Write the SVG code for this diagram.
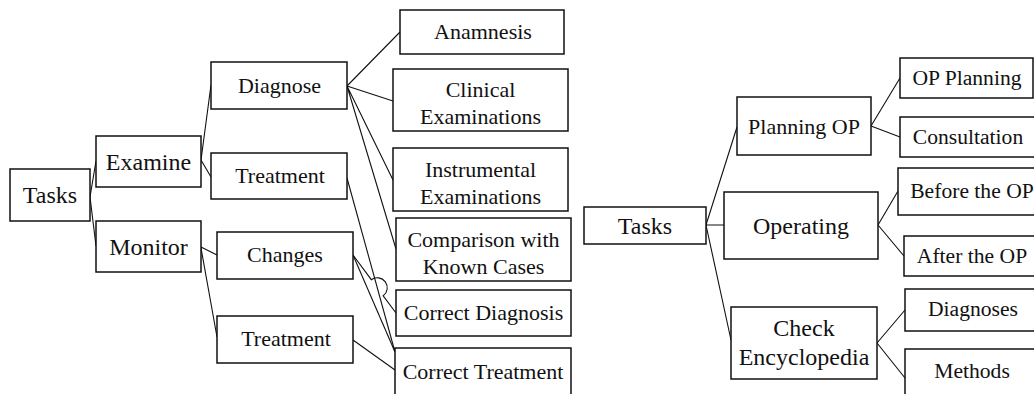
<svg xmlns="http://www.w3.org/2000/svg" width="1034" height="394" viewBox="0 0 1034 394">
  <style>
    .box { fill: #ffffff; stroke: #111111; stroke-width: 1.5; }
    .wire { fill: none; stroke: #111111; stroke-width: 1.1; }
    text { fill: #111111; text-anchor: middle; }
    .big { font-size: 24px; }
    .mid { font-size: 22px; }
    .small { font-size: 21.6px; }
  </style>
  <rect width="1034" height="394" fill="#ffffff"/>

  <!-- connectors -->
  <g id="connectors">
    <!-- left tree -->
    <path class="wire" d="M90,197 L96,161 M90,197 L96,246"/>
    <path class="wire" d="M201,160 L211,85 M201,160 L211,177"/>
    <path class="wire" d="M201,247 L217,255 M201,248 L217,337"/>
    <path class="wire" d="M347,86 L400,32 M347,86 L393,101 M347,86 L393,180 M347,86 L396,249"/>
    <path class="wire" d="M347,178 L395,352"/>
    <path class="wire" d="M353,255 L371.3,279.7 A10,10 0 0,1 383.2,295.8 L396,313"/>
    <path class="wire" d="M353,255 L395,352"/>
    <path class="wire" d="M353,340 L395,370"/>
    <!-- right tree -->
    <path class="wire" d="M706,225 L737,127 M706,225 L724,225 M706,225 L731,340"/>
    <path class="wire" d="M871,126 L900,78 M871,126 L900,137"/>
    <path class="wire" d="M878,225 L898,191 M878,225 L904,256"/>
    <path class="wire" d="M877,343 L905,310 M877,343 L905,378"/>
  </g>

  <g font-family="'Liberation Serif', 'Times New Roman', Tinos, 'DejaVu Serif', 'Noto Serif', serif">
  <!-- left tree nodes -->
  <g id="l-tasks"><rect class="box" x="10" y="169" width="80" height="52"/><text class="big" x="50" y="203">Tasks</text></g>
  <g id="l-examine"><rect class="box" x="96" y="136" width="105" height="51"/><text class="big" x="148.5" y="169.5">Examine</text></g>
  <g id="l-monitor"><rect class="box" x="96" y="221" width="105" height="51"/><text class="big" x="148.5" y="254.5">Monitor</text></g>
  <g id="l-diagnose"><rect class="box" x="211" y="62" width="136" height="47"/><text class="mid" x="279.5" y="92.5">Diagnose</text></g>
  <g id="l-treatment-a"><rect class="box" x="211" y="153" width="136" height="46"/><text class="mid" x="280" y="183">Treatment</text></g>
  <g id="l-changes"><rect class="box" x="217" y="232" width="136" height="47"/><text class="mid" x="285" y="262">Changes</text></g>
  <g id="l-treatment-b"><rect class="box" x="217" y="316" width="136" height="47"/><text class="mid" x="286" y="345.5">Treatment</text></g>
  <g id="l-anamnesis"><rect class="box" x="400" y="10" width="164" height="44"/><text class="mid" x="483" y="38.5">Anamnesis</text></g>
  <g id="l-clinical"><rect class="box" x="393" y="69" width="175" height="62"/><text class="mid" x="480.5" y="97">Clinical</text><text class="mid" x="480.5" y="124">Examinations</text></g>
  <g id="l-instrumental"><rect class="box" x="393" y="148" width="175" height="63"/><text class="mid" x="480.5" y="177">Instrumental</text><text class="mid" x="480.5" y="203.5">Examinations</text></g>
  <g id="l-comparison"><rect class="box" x="396" y="218" width="175" height="63"/><text class="mid" x="483.5" y="247">Comparison with</text><text class="mid" x="483.5" y="274">Known Cases</text></g>
  <g id="l-correct-diagnosis"><rect class="box" x="396" y="290" width="175" height="46"/><text class="mid" x="483.5" y="320">Correct Diagnosis</text></g>
  <g id="l-correct-treatment"><rect class="box" x="395" y="348" width="176" height="50"/><text class="mid" x="483" y="378.5">Correct Treatment</text></g>

  <!-- right tree nodes -->
  <g id="r-tasks"><rect class="box" x="584" y="207" width="122" height="37"/><text class="big" x="645" y="234">Tasks</text></g>
  <g id="r-planning"><rect class="box" x="737" y="97" width="134" height="58"/><text class="mid" x="804" y="133.5">Planning OP</text></g>
  <g id="r-operating"><rect class="box" x="724" y="192" width="154" height="67"/><text class="big" x="801" y="234">Operating</text></g>
  <g id="r-check"><rect class="box" x="731" y="307" width="146" height="72"/><text class="big" x="804" y="335.5">Check</text><text class="big" x="804" y="365">Encyclopedia</text></g>
  <g id="r-op-planning"><rect class="box" x="900" y="58" width="133" height="40"/><text class="small" x="967" y="85">OP Planning</text></g>
  <g id="r-consultation"><rect class="box" x="900" y="117" width="140" height="40"/><text class="small" x="968" y="144">Consultation</text></g>
  <g id="r-before"><rect class="box" x="898" y="168" width="144" height="47"/><text class="small" x="972" y="198">Before the OP</text></g>
  <g id="r-after"><rect class="box" x="904" y="236" width="138" height="40"/><text class="small" x="972" y="263">After the OP</text></g>
  <g id="r-diagnoses"><rect class="box" x="905" y="289" width="137" height="42"/><text class="small" x="973" y="316">Diagnoses</text></g>
  <g id="r-methods"><rect class="box" x="905" y="349" width="137" height="50"/><text class="small" x="972" y="378">Methods</text></g>
  </g>
</svg>
